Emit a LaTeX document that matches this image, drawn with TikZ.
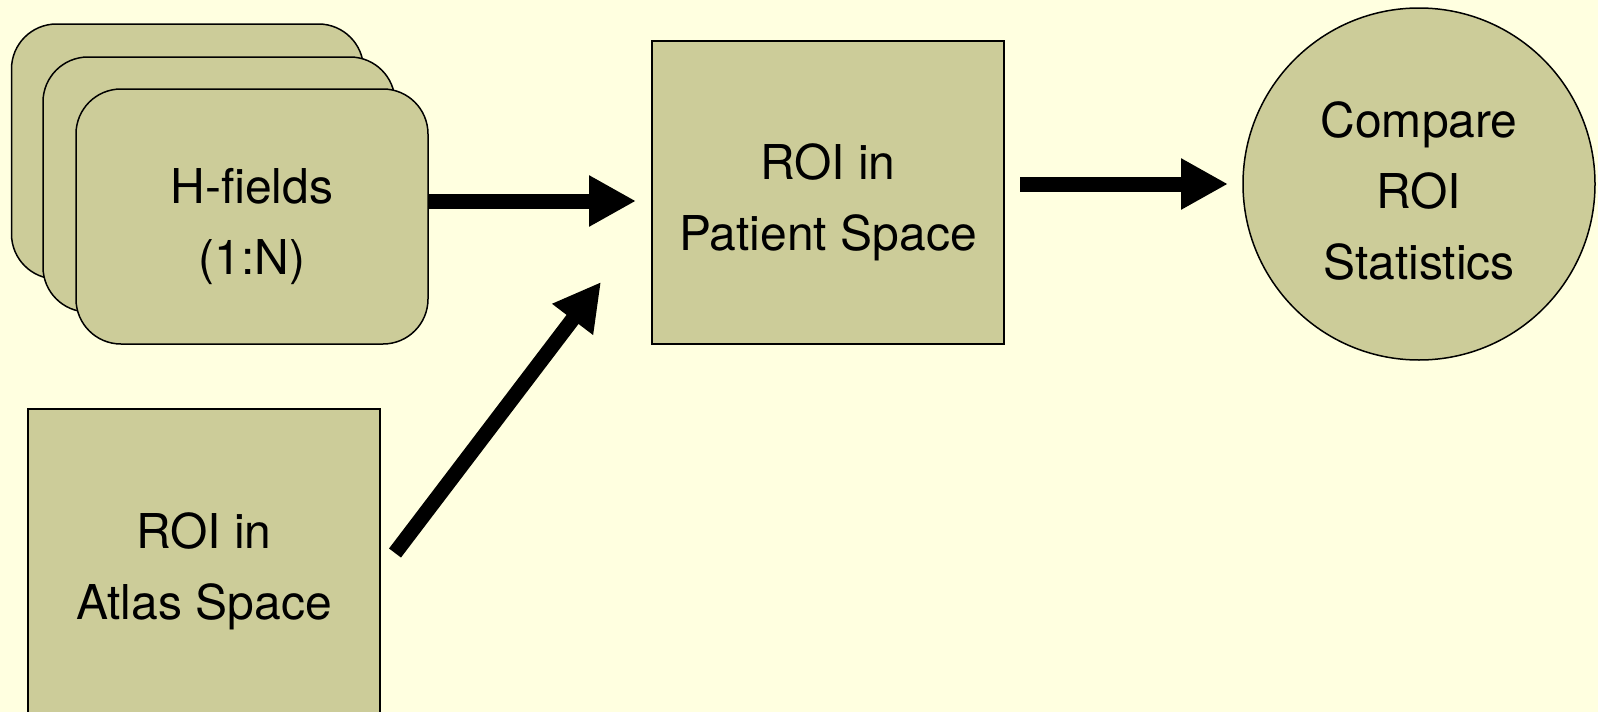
\documentclass[tikz,border=0pt]{standalone}
\usepackage{fontspec}
\setmainfont{TeX Gyre Heros}
\usetikzlibrary{arrows.meta}
\definecolor{bgcol}{RGB}{255,255,224}
\definecolor{boxfill}{RGB}{204,204,153}
\begin{document}
\begin{tikzpicture}[x=1pt,y=-1pt,
  card/.style={draw=black, line width=1.5pt, fill=boxfill, rounded corners=45pt,
    minimum width=352pt, minimum height=255pt, inner sep=0pt},
  sqbox/.style={draw=black, line width=1.5pt, fill=boxfill, inner sep=0pt},
  lbl/.style={font=\fontsize{48}{71}\selectfont, align=center, inner sep=0pt},
  arr/.style={line width=15pt, -{Triangle[length=47pt,width=48pt]}}]
\fill[bgcol] (0,0) rectangle (1598,712);
\useasboundingbox (0,0) rectangle (1598,712);
% stacked cards
\node[card] (hf3) at (187.5,151.5) {};
\node[card] (hf2) at (219,184.5) {};
\node[card] (hf1) at (252,216.5) {};
\node[lbl] (hf1t) at ([yshift=-10pt]hf1.center) {H-fields\\(1:N)};
% boxes
\node[sqbox, minimum width=352pt, minimum height=303pt] (pat) at (828,192.5) {};
\node[lbl] (patt) at ([yshift=-10pt]pat.center) {ROI in\\Patient Space};
\node[sqbox, minimum width=352pt, minimum height=316pt] (atl) at (204,567) {};
\node[lbl] (atlt) at ([yshift=-4pt]atl.center) {ROI in\\Atlas Space};
\node[sqbox, circle, minimum size=352pt] (cmp) at (1419,184) {};
\node[lbl] (cmpt) at ([yshift=-7pt]cmp.center) {Compare\\ROI\\Statistics};
% arrows
\coordinate (t1) at (636,201);
\draw[arr] (hf1.east |- t1) -- (t1);
\coordinate (s2) at (395,553);
\coordinate (t2) at (601,282);
\draw[arr] (s2) -- (t2);
\coordinate (s3) at (1020,184);
\coordinate (t3) at (1228,184);
\draw[arr] (s3) -- (t3);
\end{tikzpicture}
\end{document}
